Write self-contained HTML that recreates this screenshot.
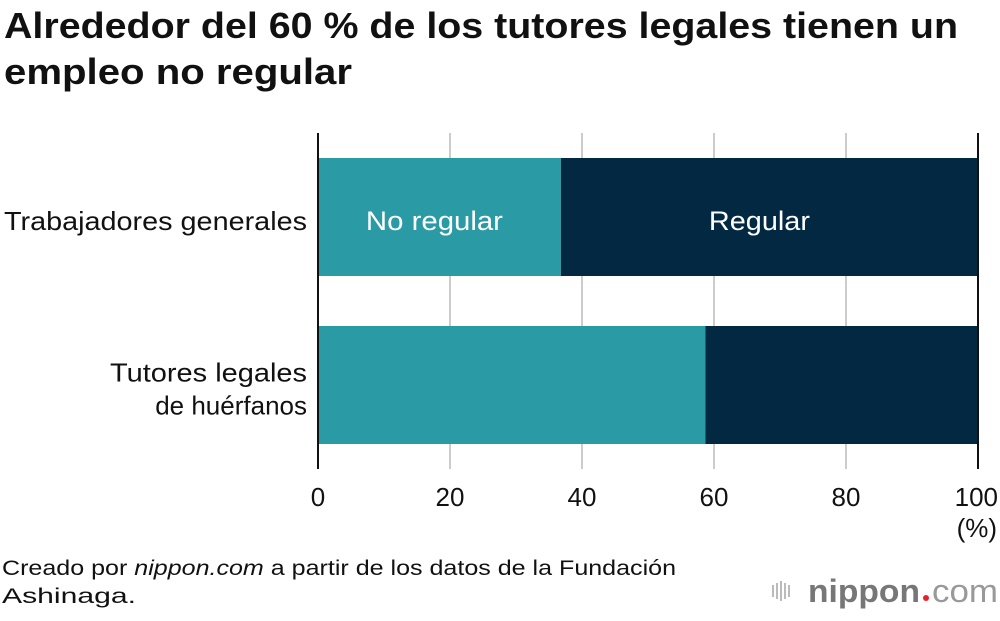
<!DOCTYPE html>
<html><head><meta charset="utf-8"><style>
body{margin:0;background:#fff;width:1000px;height:616px;overflow:hidden;font-family:"Liberation Sans",sans-serif}
</style></head><body>
<svg width="1000" height="616" xmlns="http://www.w3.org/2000/svg" id="chart" font-family="Liberation Sans, sans-serif">
<text x="4" y="38" font-size="36" font-weight="bold" fill="#111" textLength="954" lengthAdjust="spacingAndGlyphs">Alrededor del 60 % de los tutores legales tienen un</text>
<text x="4" y="84" font-size="36" font-weight="bold" fill="#111" textLength="348" lengthAdjust="spacingAndGlyphs">empleo no regular</text>
<g id="plot"></g>
<text x="2" y="575" font-size="21" fill="#111" textLength="674" lengthAdjust="spacingAndGlyphs">Creado por <tspan font-style="italic">nippon.com</tspan> a partir de los datos de la Fundación</text>
<text x="2" y="603" font-size="21" fill="#111" textLength="134" lengthAdjust="spacingAndGlyphs">Ashinaga.</text>
<g>
<g fill="#bbb"><rect x="772" y="585" width="2" height="12"/><rect x="776" y="583" width="2" height="16"/><rect x="780" y="581" width="2" height="20"/><rect x="784" y="583" width="2" height="16"/><rect x="788" y="585" width="2" height="12"/></g>
<text x="808" y="602" font-size="32" fill="#777" font-weight="bold" textLength="112" lengthAdjust="spacingAndGlyphs">nippon</text>
<circle cx="926" cy="598" r="3" fill="#e8202a"/>
<text x="932" y="602" font-size="32" fill="#999" textLength="66" lengthAdjust="spacingAndGlyphs">com</text>
</g>
</svg>
<script>
const categories=["Trabajadores generales","Tutores legales de huérfanos"];
const noRegular=[36.8,58.7];
const regular=[63.2,41.3];
const ticks=[0,20,40,60,80,100];
const NS="http://www.w3.org/2000/svg";
const g=document.getElementById('plot');
const x=v=>318+v*6.6;
const barTop=[158,326];const barH=118;
function mk(t,a){const e=document.createElementNS(NS,t);for(const k in a)e.setAttribute(k,a[k]);g.appendChild(e);return e;}
ticks.forEach((t,i)=>{
  if(t>0&&t<100){const l=mk('line',{x1:x(t),x2:x(t),y1:133,y2:469,stroke:'#ccc','stroke-width':2});
  
  }
});
categories.forEach((c,i)=>{
  const r1=mk('rect',{x:x(0),y:barTop[i],width:x(noRegular[i])-x(0),height:barH,fill:'#2a9ba5'});
  
  
  const r2=mk('rect',{x:x(noRegular[i]),y:barTop[i],width:x(noRegular[i]+regular[i])-x(noRegular[i]),height:barH,fill:'#032942'});
  
  
});
[0,100].forEach(t=>{const l=mk('line',{x1:x(t),x2:x(t),y1:133,y2:469,stroke:'#111','stroke-width':2});

});
ticks.forEach(t=>{const e=mk('text',{x:x(t),y:506,'font-size':26,'text-anchor':'middle',fill:'#111'});e.textContent=t;
if(t==100){e.setAttribute('text-anchor','end');e.setAttribute('x',998);}

});
const u=mk('text',{x:997,y:537,'font-size':26,'text-anchor':'end',fill:'#111'});u.textContent='(%)';


const lab=[["Trabajadores generales"],["Tutores legales","de huérfanos"]];
const labW=[[303],[197,0]];
lab.forEach((ls,i)=>{const cy=barTop[i]+barH/2;ls.forEach((s,j)=>{
  const e=mk('text',{x:307,y:cy+13+(j-(ls.length-1)/2)*33,'font-size':26,'text-anchor':'end',fill:'#111'});e.textContent=s;
  if(labW[i][j]){e.setAttribute('textLength',labW[i][j]);e.setAttribute('lengthAdjust','spacingAndGlyphs');}
  
  });});
const a=mk('text',{x:x(noRegular[0]/2)-5,y:barTop[0]+barH/2+13,'font-size':27,'text-anchor':'middle',fill:'#fff',textLength:137,lengthAdjust:'spacingAndGlyphs'});a.textContent='No regular';


const b=mk('text',{x:x(noRegular[0]+regular[0]/2)-10,y:barTop[0]+barH/2+13,'font-size':27,'text-anchor':'middle',fill:'#fff',textLength:101,lengthAdjust:'spacingAndGlyphs'});b.textContent='Regular';


</script>
</body></html>
